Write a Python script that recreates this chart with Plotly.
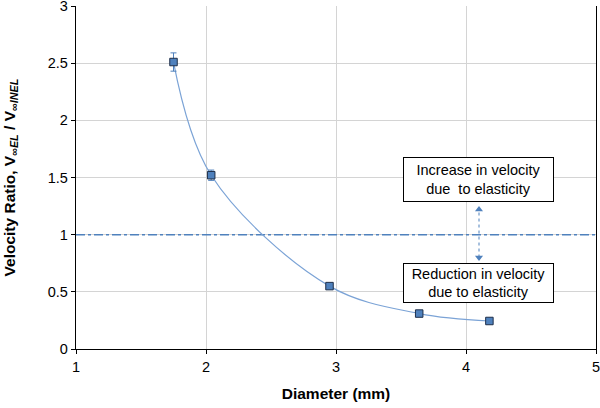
import plotly.graph_objects as go

diameter = [1.75, 2.04, 2.95, 3.64, 4.18]
ratio = [2.51, 1.52, 0.55, 0.31, 0.245]
err = [0.08, 0.045, 0.01, 0.01, 0.01]

ref_x = [1, 5]
ref_y = [1, 1]

arrow_x = [4.10, 4.10]
arrow_y = [0.80, 1.22]

box_x = 4.095
box_up_y = 1.483
box_down_y = 0.577

fig = go.Figure()

fig.add_trace(go.Scatter(
    x=ref_x, y=ref_y, mode="lines",
    line=dict(color="#4F81BD", width=1.5, dash="dashdot"),
    hoverinfo="skip", showlegend=False))

fig.add_trace(go.Scatter(
    x=diameter, y=ratio, mode="lines",
    line=dict(color="#7BA3D6", width=1.2, shape="spline", smoothing=1.0),
    showlegend=False))

fig.add_trace(go.Scatter(
    x=diameter, y=ratio, mode="markers",
    marker=dict(symbol="square", size=7.5, color="#4F81BD",
                line=dict(color="#1F2F4A", width=1)),
    error_y=dict(type="data", array=err, color="#4F81BD", thickness=1, width=3),
    showlegend=False))

fig.add_trace(go.Scatter(
    x=arrow_x, y=arrow_y, mode="lines+markers",
    line=dict(color="#4F81BD", width=1, dash="dot"),
    marker=dict(symbol=["triangle-down", "triangle-up"], size=7, color="#4F81BD"),
    showlegend=False, hoverinfo="skip"))

fam = "Liberation Sans, Arial, sans-serif"
ann_font = dict(family=fam, size=14.5, color="#000000")
fig.add_annotation(x=box_x, y=box_up_y, text="Increase in velocity<br>due  to elasticity",
                   showarrow=False, font=ann_font, bordercolor="#000000", borderwidth=1,
                   bgcolor="#FFFFFF", borderpad=3, width=143, height=37)
fig.add_annotation(x=box_x, y=box_down_y, text="Reduction in velocity<br>due to elasticity",
                   showarrow=False, font=ann_font, bordercolor="#000000", borderwidth=1,
                   bgcolor="#FFFFFF", borderpad=1, width=147, height=36)

fig.update_layout(
    width=600, height=408,
    margin=dict(l=76, r=4, t=6, b=59),
    paper_bgcolor="#FFFFFF", plot_bgcolor="#FFFFFF",
    font=dict(family=fam, size=14.5, color="#000000"),
    xaxis=dict(range=[1, 5], tickvals=[1, 2, 3, 4, 5], showgrid=True, gridcolor="#D4D4D4", gridwidth=1,
               showline=True, linecolor="#000000", linewidth=1.3,
               ticks="outside", ticklen=4, tickcolor="#000000", zeroline=False,
               automargin=False, ticklabeloverflow="allow",
               title=dict(text="<b>Diameter (mm)</b>", font=dict(size=15.5), standoff=14)),
    yaxis=dict(range=[0, 3], dtick=0.5, showgrid=True, gridcolor="#D4D4D4", gridwidth=1,
               showline=True, linecolor="#000000", linewidth=1.3, mirror=True,
               ticks="outside", ticklen=4, tickcolor="#000000", zeroline=False,
               automargin=False, ticklabeloverflow="allow",
               title=dict(text="<b>Velocity Ratio, V<sub><i>∞EL</i></sub> / V<sub><i>∞INEL</i></sub></b>",
                          font=dict(size=15.5), standoff=28)),
)

fig.write_html("out.html", config={"displayModeBar": False},
               post_script="document.body.style.margin='0';document.body.style.overflow='hidden';")
